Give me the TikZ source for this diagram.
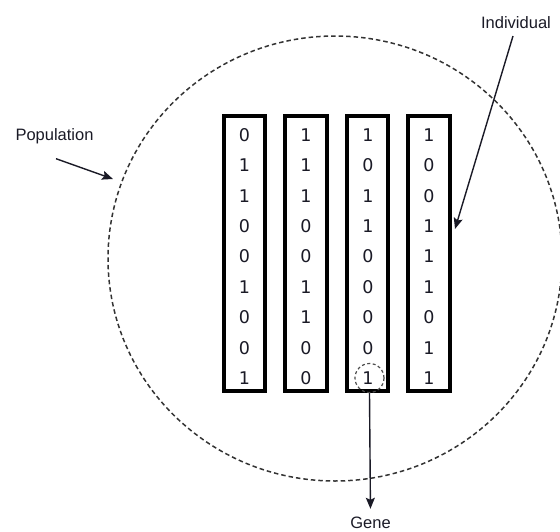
\documentclass[tikz,border=0pt]{standalone}
\usepackage{fontspec}
\setmainfont{Liberation Sans}
\newfontfamily\digitfont{DejaVu Sans}
\usetikzlibrary{arrows.meta}

\definecolor{ink}{HTML}{1A1A26}

\tikzset{
  chromosome/.style={draw=black, line width=3.7pt, rectangle,
    minimum width=41.5pt, minimum height=275pt, inner sep=0pt},
  bit/.style={text=ink, font=\digitfont\fontsize{17.5}{17.5}\selectfont, inner sep=0pt},
  label/.style={text=ink, font=\fontsize{16.5}{16.5}\selectfont, inner sep=1.5pt},
  pointer/.style={draw=ink, line width=1.4pt,
    -{Stealth[length=11pt, width=9pt, inset=2pt]}},
  popring/.style={draw=black!80, dashed, dash pattern=on 4.5pt off 3pt, line width=1.5pt},
  genering/.style={draw=black!70, dashed, dash pattern=on 3pt off 2.5pt, line width=1.2pt,
    circle, minimum size=29pt, inner sep=0pt}
}

\begin{document}
\begin{tikzpicture}[x=1pt, y=-1pt]
  \useasboundingbox (0,0) rectangle (560,531);

  % population boundary
  \draw[popring] (335,258.5) ellipse [x radius=227pt, y radius=222.5pt];

  % the four individuals (chromosomes)
  \foreach \i/\x in {1/244.5, 2/306, 3/367.5, 4/429}
    \node[chromosome] (ind\i) at (\x,253.5) {};

  % genes of each individual, top to bottom
  \foreach \i/\x/\bits in {1/244.5/{0,1,1,0,0,1,0,0,1},
                           2/306/{1,1,1,0,0,1,1,0,0},
                           3/368/{1,0,1,1,0,0,0,0,1},
                           4/429/{1,0,0,1,1,1,0,1,1}} {
    \foreach \b [count=\r from 0] in \bits
      \node[bit] (g\i-\r) at (\x,{135+30.4*\r}) {\b};
  }

  % highlighted gene
  \node[genering] (gene) at (369.5,378) {};

  % labels
  \node[label, anchor=base] (pop) at (54.5,140.7) {Population};
  \node[label, anchor=base] (indlab) at (516,28) {Individual};
  \node[label, anchor=base] (genelab) at (370.5,528) {Gene};

  \coordinate (poptip) at (113,179);
  \coordinate (indtip) at (455,229);

  % pointers
  \draw[pointer] ([xshift=1.5pt, yshift=-18pt]pop.base) -- (poptip);
  \draw[pointer] ([xshift=-3pt, yshift=-8pt]indlab.base) -- (indtip);
  \draw[pointer, shorten >=6pt] (gene.south) -- (genelab.north);
\end{tikzpicture}
\end{document}
